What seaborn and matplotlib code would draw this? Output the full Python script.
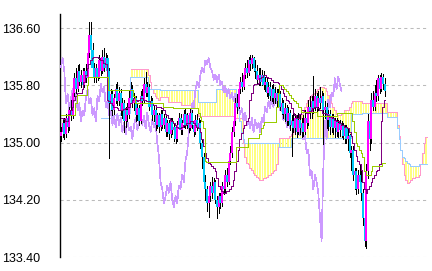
import matplotlib
matplotlib.use("Agg")
import matplotlib.pyplot as plt
import pandas as pd
import seaborn as sns

sns.set_style("white")
plt.rcParams["font.family"] = ["Liberation Sans Narrow", "Liberation Sans", "DejaVu Sans"]

N_BARS = 196
FUTURE = 26
CHIKOU_SHIFT = 26

OPEN = [135.10,135.15,135.28,135.12,135.35,135.22,135.45,135.38,135.70,135.90,
        135.75,136.00,135.85,135.95,135.80,136.00,135.90,136.25,136.50,136.30,
        136.05,135.90,136.05,135.92,136.15,136.00,136.20,136.05,136.18,136.00,
        135.55,135.68,135.45,135.62,135.75,135.58,135.70,135.45,135.55,135.30,
        135.45,135.38,135.62,135.75,135.55,135.62,135.38,135.48,135.30,135.65,
        135.58,135.82,135.70,135.78,135.50,135.58,135.38,135.45,135.25,135.38,
        135.22,135.40,135.25,135.35,135.15,135.28,135.12,135.30,135.18,135.22,
        135.05,135.25,135.35,135.18,135.28,135.40,135.25,135.38,135.20,135.42,
        135.25,135.15,135.32,135.22,135.28,135.00,134.80,134.45,134.35,134.15,
        134.25,134.40,134.30,134.45,134.20,134.10,134.25,134.15,134.40,134.35,
        134.55,134.45,134.75,134.85,135.15,135.30,135.55,135.50,135.75,135.85,
        135.78,135.95,136.05,135.98,136.15,136.10,136.18,136.05,136.00,135.88,
        135.95,135.85,135.95,135.80,135.85,135.70,135.78,135.65,135.75,135.62,
        135.70,135.58,135.68,135.50,135.55,135.40,135.48,135.30,135.42,135.25,
        135.30,135.20,135.35,135.15,135.32,135.20,135.28,135.15,135.35,135.28,
        135.50,135.42,135.58,135.48,135.65,135.50,135.62,135.55,135.65,135.45,
        135.50,135.32,135.40,135.22,135.35,135.20,135.30,135.15,135.28,135.18,
        135.25,135.10,135.20,135.05,135.10,134.85,134.90,134.55,134.60,134.35,
        134.55,134.45,134.30,133.95,133.62,134.60,135.30,135.05,135.60,135.50,
        135.70,135.65,135.90,135.75,135.92,135.82]

HIGH = [135.22,135.33,135.35,135.40,135.42,135.50,135.60,135.78,135.98,136.05,
        136.08,136.10,136.02,136.05,136.05,136.10,136.45,136.69,136.69,136.40,
        136.12,136.10,136.12,136.22,136.20,136.30,136.33,136.25,136.22,136.05,
        135.75,135.72,135.68,135.82,135.85,135.78,135.75,135.62,135.60,135.50,
        135.55,135.72,135.85,135.80,135.70,135.65,135.55,135.52,135.72,135.75,
        135.90,135.99,135.85,135.82,135.65,135.62,135.52,135.50,135.42,135.42,
        135.45,135.45,135.40,135.38,135.32,135.32,135.35,135.35,135.28,135.25,
        135.30,135.42,135.40,135.32,135.45,135.48,135.42,135.42,135.48,135.45,
        135.30,135.38,135.40,135.35,135.32,135.05,134.85,134.55,134.40,134.30,
        134.45,134.52,134.50,134.48,134.25,134.30,134.30,134.45,134.55,134.62,
        134.65,134.80,134.95,135.22,135.42,135.62,135.68,135.82,135.92,135.98,
        136.02,136.12,136.15,136.20,136.22,136.22,136.20,136.15,136.08,136.05,
        136.05,136.02,136.00,135.92,135.90,135.85,135.85,135.80,135.82,135.78,
        135.75,135.75,135.72,135.62,135.60,135.55,135.52,135.50,135.45,135.38,
        135.40,135.40,135.38,135.42,135.38,135.35,135.38,135.45,135.50,135.60,
        135.65,135.65,135.93,135.75,135.70,135.72,135.78,135.72,135.70,135.58,
        135.55,135.45,135.45,135.40,135.40,135.35,135.35,135.32,135.32,135.30,
        135.28,135.25,135.25,135.20,135.12,134.95,134.95,134.65,134.65,134.62,
        134.70,134.65,134.35,134.00,134.70,135.40,135.35,135.70,135.72,135.80,
        135.88,135.95,135.95,135.98,135.96,135.90]

LOW = [135.02,135.08,135.05,135.08,135.15,135.18,135.32,135.35,135.65,135.70,
       135.72,135.80,135.78,135.75,135.78,135.85,135.88,136.20,136.25,136.00,
       135.85,135.85,135.88,135.90,135.95,135.98,136.00,136.02,135.95,134.78,
       135.45,135.38,135.40,135.55,135.52,135.52,135.38,135.35,135.15,135.22,
       135.30,135.35,135.58,135.50,135.45,135.30,135.32,135.25,135.28,135.52,
       135.55,135.65,135.65,135.45,135.42,135.32,135.30,135.18,135.20,135.15,
       135.18,135.20,135.20,135.10,135.10,135.05,135.08,135.12,135.02,135.00,
       135.02,135.20,135.12,135.12,135.22,135.20,135.20,135.15,135.18,135.20,
       135.10,135.12,135.18,135.15,134.92,134.65,134.40,134.20,134.05,133.96,
       134.18,134.22,134.25,134.15,133.94,134.02,134.08,134.12,134.28,134.30,
       134.40,134.42,134.70,134.80,135.10,135.25,135.42,135.48,135.70,135.72,
       135.75,135.90,135.92,135.95,136.02,136.05,136.00,135.90,135.82,135.80,
       135.80,135.80,135.75,135.72,135.65,135.62,135.60,135.58,135.55,135.55,
       135.50,135.52,135.45,135.40,135.35,135.30,135.25,135.25,135.18,134.82,
       135.15,135.12,135.08,135.12,135.12,135.08,135.10,135.12,135.20,135.25,
       135.35,135.35,135.42,135.45,135.42,135.45,135.48,135.45,134.98,135.35,
       135.20,135.18,135.12,135.15,135.12,135.08,135.10,135.08,135.10,135.08,
       135.05,135.00,135.00,134.90,134.80,134.62,134.48,134.35,134.28,134.30,
       134.40,134.20,133.85,133.55,133.53,134.50,134.90,135.00,135.45,135.45,
       135.58,135.60,135.70,135.72,135.75,135.65]

CLOSE = [135.15,135.28,135.12,135.35,135.22,135.45,135.38,135.70,135.90,135.75,
         136.00,135.85,135.95,135.80,136.00,135.90,136.25,136.50,136.30,136.05,
         135.90,136.05,135.92,136.15,136.00,136.20,136.05,136.18,136.00,135.55,
         135.68,135.45,135.62,135.75,135.58,135.70,135.45,135.55,135.30,135.45,
         135.38,135.62,135.75,135.55,135.62,135.38,135.48,135.30,135.65,135.58,
         135.82,135.70,135.78,135.50,135.58,135.38,135.45,135.25,135.38,135.22,
         135.40,135.25,135.35,135.15,135.28,135.12,135.30,135.18,135.22,135.05,
         135.25,135.35,135.18,135.28,135.40,135.25,135.38,135.20,135.42,135.25,
         135.15,135.32,135.22,135.28,135.00,134.80,134.45,134.35,134.15,134.25,
         134.40,134.30,134.45,134.20,134.10,134.25,134.15,134.40,134.35,134.55,
         134.45,134.75,134.85,135.15,135.30,135.55,135.50,135.75,135.85,135.78,
         135.95,136.05,135.98,136.15,136.10,136.18,136.05,136.00,135.88,135.95,
         135.85,135.95,135.80,135.85,135.70,135.78,135.65,135.75,135.62,135.70,
         135.58,135.68,135.50,135.55,135.40,135.48,135.30,135.42,135.25,135.30,
         135.20,135.35,135.15,135.32,135.20,135.28,135.15,135.35,135.28,135.50,
         135.42,135.58,135.48,135.65,135.50,135.62,135.55,135.65,135.45,135.50,
         135.32,135.40,135.22,135.35,135.20,135.30,135.15,135.28,135.18,135.25,
         135.10,135.20,135.05,135.10,134.85,134.90,134.55,134.60,134.35,134.55,
         134.45,134.30,133.95,133.62,134.60,135.30,135.05,135.60,135.50,135.70,
         135.65,135.90,135.75,135.92,135.82,135.72]

TENKAN = [135.35,135.35,135.33,135.30,135.30,135.40,135.45,135.50,135.60,135.65,
          135.70,135.70,135.70,135.75,135.85,135.95,136.05,136.10,136.15,
          136.18,136.20,136.20,136.20,136.18,136.15,136.15,136.12,136.10,
          135.60,135.58,135.55,135.52,135.50,135.50,135.48,135.46,135.46,135.45,135.47,
          135.48,135.50,135.50,135.55,135.60,135.62,135.60,135.58,
          135.60,135.62,135.62,135.60,135.60,135.58,135.58,135.56,135.55,135.52,135.52,135.50,
          135.50,135.50,135.48,135.45,135.40,135.38,135.35,
          135.32,135.30,135.28,135.25,135.22,135.20,135.20,135.22,135.25,135.25,
          135.28,135.28,135.30,135.30,135.28,135.25,
          135.22,135.20,135.15,135.05,134.95,134.85,
          134.78,134.72,134.70,134.68,134.65,134.60,
          134.50,134.40,134.35,134.32,134.30,134.30,134.32,134.32,134.35,134.40,
          134.48,134.60,134.75,134.90,135.05,135.14,
          135.20,135.25,135.30,135.35,
          135.60,135.70,135.80,135.82,135.82,135.84,135.90,135.92,135.95,135.95,
          135.92,135.90,135.90,135.88,135.85,135.85,135.85,135.84,
          135.80,135.75,135.70,135.65,135.60,135.58,135.55,
          135.48,135.42,135.38,135.35,135.35,135.40,
          135.45,135.45,135.43,135.42,135.42,135.44,
          135.45,135.48,135.50,135.50,135.48,135.45,135.45,135.42,135.42,135.40,135.38,135.36,135.36,135.35,
          135.32,135.30,135.30,135.28,135.25,135.25,135.22,135.22,135.20,135.15,
          135.10,135.00,134.90,134.82,134.75,134.70,134.62,
          134.45,134.35,134.30,134.35,134.40,134.45,134.50,134.55,134.60,
          134.62,134.70,135.30,135.50,135.60]

KIJUN = [135.39,135.39,135.39,135.39,135.39,135.39,135.39,135.39,135.39,
         135.55,135.67,
         135.67,135.67,135.67,135.67,135.67,
         135.80,135.92,
         135.92,135.92,135.92,135.92,135.92,135.92,135.92,135.92,135.92,135.92,135.92,
         135.74,135.74,135.74,135.74,135.74,135.74,135.74,135.74,135.74,135.74,135.74,135.74,135.74,135.74,135.74,
         135.65,135.56,135.56,
         135.56,135.56,135.56,135.56,135.56,135.56,135.56,135.56,135.56,135.56,135.56,135.56,135.56,135.56,135.56,
         135.50,135.50,135.50,135.50,135.50,135.50,
         135.48,135.48,135.48,135.48,135.48,135.48,135.48,135.48,135.48,135.48,135.48,135.48,135.48,135.48,135.48,
         135.42,135.36,135.30,135.20,134.75,
         134.73,134.73,134.73,134.73,134.73,134.73,134.73,134.73,134.73,
         134.73,134.73,134.73,134.73,134.73,134.73,134.73,134.73,134.73,
         134.94,134.94,134.94,134.94,134.94,134.94,134.94,
         135.07,135.07,135.07,135.07,135.07,135.07,135.07,
         135.12,135.20,135.25,135.29,
         135.29,135.29,135.29,135.29,135.29,135.29,
         135.50,135.70,135.81,
         135.81,135.78,135.75,135.72,135.70,
         135.66,135.62,135.60,135.58,135.56,
         135.50,135.50,
         135.43,135.43,135.43,135.43,135.43,135.43,135.43,135.43,135.43,135.43,
         135.37,135.37,135.37,135.37,135.37,135.37,135.37,135.37,135.37,135.37,135.37,135.37,
         135.42,135.42,135.42,135.42,135.42,135.42,135.42,135.42,135.42,
         135.30,135.15,135.00,134.95,134.90,134.86,134.80,
         134.60,134.55,134.55,134.55,134.60,
         134.68,134.68,134.68,134.68,134.68,134.68,
         134.72,134.72]

# leading span drawn in pink (starts at bar 42)
SPAN_PINK_START = 42
SPAN_PINK = [136.03,136.03,136.03,136.03,136.03,136.03,136.03,136.03,136.03,136.03,136.03,
             135.95,135.85,135.75,135.70,135.65,135.62,135.60,
             135.64,135.64,135.64,135.64,135.64,
             135.57,135.57,135.57,135.57,135.57,135.57,135.57,135.57,
             135.52,135.52,135.52,135.52,135.52,135.52,
             135.48,135.48,135.48,135.48,
             135.37,135.37,135.37,135.37,135.37,135.37,135.37,135.37,135.37,135.37,135.37,
             135.37,135.37,135.37,135.37,135.37,135.37,135.37,135.37,135.37,135.37,135.37,
             135.35,135.35,135.35,135.35,135.35,
             135.00,134.80,134.72,134.70,134.65,134.62,134.58,134.55,134.52,134.50,134.48,
             134.48,134.50,134.50,134.52,134.55,134.55,134.58,134.60,134.62,134.70,134.94,
             135.07,135.07,135.07,135.07,135.07,135.07,135.10,
             135.12,135.15,135.20,135.25,135.30,135.35,135.40,135.45,135.50,135.55,
             135.60,135.64,135.66,135.68,135.70,135.72,135.75,135.78,135.78,135.78,
             135.76,135.72,135.66,135.60,135.55,135.50,135.45,135.40,135.38,135.38,
             135.40,135.42,135.45,135.45,135.45,135.50,
             135.55,135.58,135.58,135.58,135.58,135.58,135.58,
             135.56,135.56,135.56,135.56,135.56,135.56,135.56,135.56,135.56,135.56,135.56,135.56,135.56,135.56,135.56,
             135.43,135.43,135.43,135.43,135.43,135.43,
             135.25,135.10,134.90,134.70,
             134.55,134.48,134.44,134.45,134.48,134.50,134.50,134.52,134.52,
             134.55,134.70,134.85,135.00,135.08,135.08]

# leading span drawn in light blue (starts at bar 24)
SPAN_BLUE_START = 24
SPAN_BLUE = [135.35,135.35,135.35,135.35,135.35,135.35,135.35,
             135.38,135.38,135.38,135.38,135.38,
             135.42,135.42,135.42,135.42,135.42,135.42,
             135.92,135.92,135.92,135.92,135.92,135.92,135.92,135.92,135.92,135.92,135.92,
             135.75,135.75,135.75,135.75,135.75,135.75,135.75,
             135.73,135.73,135.73,135.73,135.73,135.73,135.73,135.73,135.73,135.73,135.73,135.73,
             135.73,135.73,135.73,135.73,135.73,135.73,135.73,135.73,135.73,135.73,135.73,
             135.57,135.57,135.57,135.57,135.57,135.57,135.57,135.57,135.57,135.57,135.57,
             135.75,135.75,135.75,135.75,135.75,135.75,135.75,135.75,135.75,135.75,135.75,135.75,
             135.60,135.45,135.30,135.15,135.05,
             135.00,135.00,135.00,135.00,135.00,135.00,135.00,135.00,135.00,135.00,135.00,
             135.00,135.00,135.00,135.00,135.00,135.00,135.00,135.00,135.00,135.00,
             134.94,134.94,134.94,134.94,134.94,134.94,134.94,
             135.07,135.07,135.07,135.07,135.07,135.07,135.07,135.07,135.07,135.07,135.07,135.07,
             135.07,135.07,135.07,135.07,135.07,135.07,135.07,135.07,135.07,135.07,135.07,135.07,
             135.07,135.07,135.07,135.07,135.07,135.07,135.07,135.07,135.07,135.07,135.07,135.07,
             135.40,135.40,135.40,135.40,135.40,135.40,135.40,
             135.42,135.42,135.42,135.42,135.42,135.42,135.42,135.42,135.42,135.42,135.42,135.42,135.42,135.42,135.42,
             135.36,135.36,135.36,135.36,135.36,135.36,
             135.20,135.05,134.90,134.80,
             134.78,134.75,134.72,134.70,
             134.68,134.68,134.68,134.68,134.68,
             134.70,134.70,134.70,134.70,134.70,134.70]

Y_TICKS = [133.40, 134.20, 135.00, 135.80, 136.60]
Y_LABELS = ["133.40", "134.20", "135.00", "135.80", "136.60"]

UP_COLOR = "#FF00FF"
DOWN_COLOR = "#00C8F8"
LW = 0.5  # renders as a single pixel without antialiasing

bars = list(range(N_BARS))
candles = pd.DataFrame({"bar": bars, "open": OPEN, "high": HIGH, "low": LOW, "close": CLOSE,
                        "tenkan": TENKAN, "kijun": KIJUN})
pink = pd.DataFrame({"bar": list(range(SPAN_PINK_START, SPAN_PINK_START + len(SPAN_PINK))), "v": SPAN_PINK})
blue = pd.DataFrame({"bar": list(range(SPAN_BLUE_START, SPAN_BLUE_START + len(SPAN_BLUE))), "v": SPAN_BLUE})
chikou = pd.DataFrame({"bar": [b - CHIKOU_SHIFT for b in bars[CHIKOU_SHIFT:]], "v": CLOSE[CHIKOU_SHIFT:]})
cloud = pink.merge(blue, on="bar", suffixes=("_p", "_b"))

W, H = 432, 271
fig = plt.figure(figsize=(W / 100, H / 100), dpi=100)
ax = fig.add_axes([60 / W, 14 / H, 368 / W, 243 / H])
ax.set_facecolor("white")

# cloud: vertical yellow hatch lines between the two leading spans
ax.vlines(cloud["bar"], cloud[["v_p", "v_b"]].min(axis=1), cloud[["v_p", "v_b"]].max(axis=1),
          color="#FFFF80", linewidth=LW, antialiased=False, zorder=1)

sns.lineplot(data=pink, x="bar", y="v", ax=ax, color="#FF99CC", linewidth=LW,
             drawstyle="steps-mid", antialiased=False, zorder=2)
sns.lineplot(data=blue, x="bar", y="v", ax=ax, color="#99CCFF", linewidth=LW,
             drawstyle="steps-mid", antialiased=False, zorder=2)
sns.lineplot(data=chikou, x="bar", y="v", ax=ax, color="#CC99FF", linewidth=LW,
             antialiased=False, zorder=3)

# candles: wick underneath, body centred on it
ax.vlines(candles["bar"], candles["low"], candles["high"], color="black", linewidth=LW,
          antialiased=False, zorder=4)
body_colors = [UP_COLOR if c >= o else DOWN_COLOR for o, c in zip(OPEN, CLOSE)]
body_bottom = [min(o, c) for o, c in zip(OPEN, CLOSE)]
body_height = [max(abs(c - o), 0.01) for o, c in zip(OPEN, CLOSE)]
ax.bar(candles["bar"], body_height, bottom=body_bottom, width=1.25, color=body_colors,
       linewidth=0, antialiased=False, zorder=5)

sns.lineplot(data=candles, x="bar", y="tenkan", ax=ax, color="#800080", linewidth=LW,
             drawstyle="steps-mid", antialiased=False, zorder=6)
sns.lineplot(data=candles, x="bar", y="kijun", ax=ax, color="#99CC00", linewidth=LW,
             drawstyle="steps-mid", antialiased=False, zorder=7)

ax.set_xlim(-0.6, N_BARS + FUTURE - 0.9)
ax.set_ylim(133.40, 136.80)
ax.set_yticks(Y_TICKS)
ax.set_yticklabels(Y_LABELS, fontsize=9, color="black")
ax.set_xticks([])
ax.set_xlabel("")
ax.set_ylabel("")
ax.yaxis.grid(True, color="#BBBBBB", linestyle=(0, (3, 3)), linewidth=0.75)
ax.xaxis.grid(False)
ax.set_axisbelow(True)
ax.tick_params(axis="y", length=0, pad=14)
for side in ["top", "right", "bottom"]:
    ax.spines[side].set_visible(False)
ax.spines["left"].set_color("black")
ax.spines["left"].set_linewidth(1.0)

fig.savefig("out.png", dpi=100)
